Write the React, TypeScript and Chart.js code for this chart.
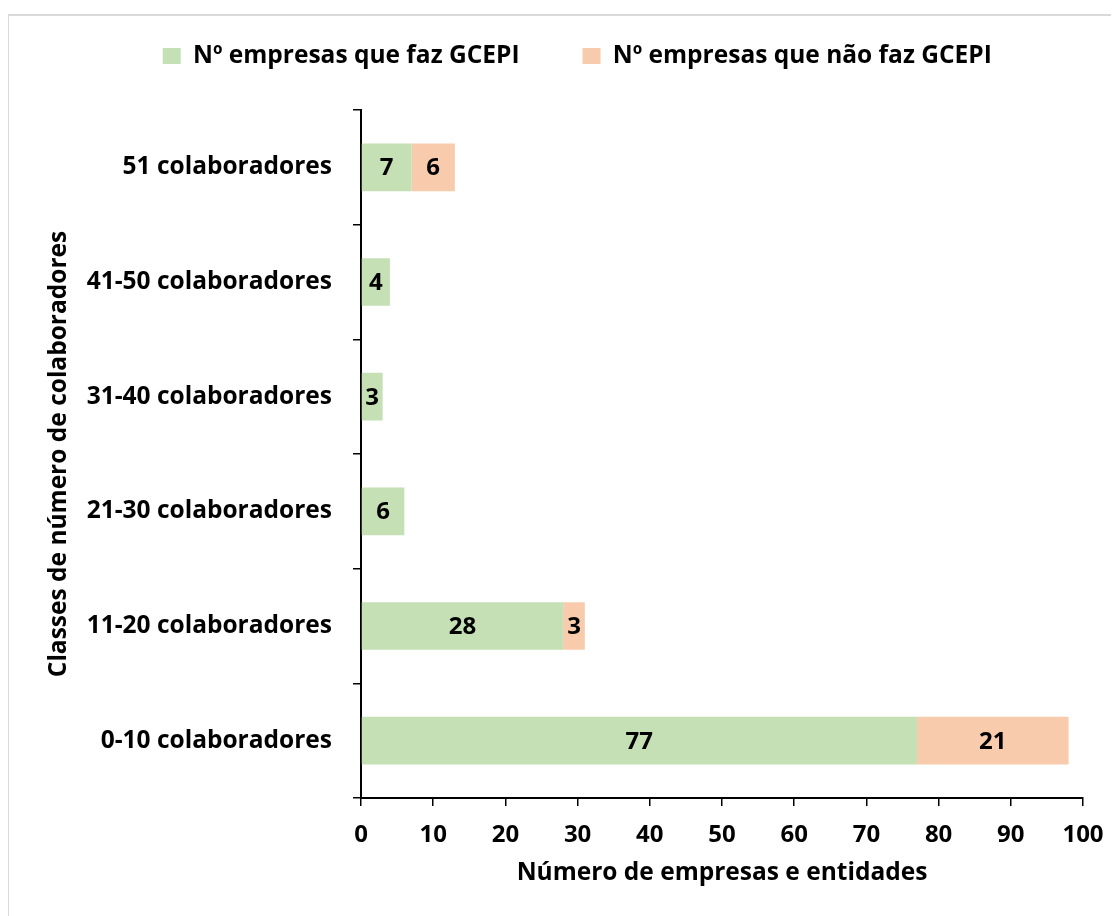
import React, { useEffect, useRef } from "react";
import { Chart, registerables } from "chart.js";

Chart.register(...registerables);

const categories = [
  "51 colaboradores",
  "41-50 colaboradores",
  "31-40 colaboradores",
  "21-30 colaboradores",
  "11-20 colaboradores",
  "0-10 colaboradores",
];
const fazGCEPI = [7, 4, 3, 6, 28, 77];
const naoFazGCEPI = [6, 0, 0, 0, 3, 21];
const seriesNames = ["Nº empresas que faz GCEPI", "Nº empresas que não faz GCEPI"];
const xAxisTitle = "Número de empresas e entidades";
const yAxisTitle = "Classes de número de colaboradores";

const FONT = "'Open Sans'";
const FS = 24.5;
const FD = 24;

const dataLabels = {
  id: "dataLabels",
  afterDatasetsDraw(chart: any) {
    const ctx = chart.ctx;
    ctx.save();
    ctx.font = `bold ${FD}px ${FONT}`;
    ctx.fillStyle = "#000";
    ctx.textAlign = "center";
    ctx.textBaseline = "middle";
    chart.data.datasets.forEach((ds: any, di: number) => {
      const meta = chart.getDatasetMeta(di);
      meta.data.forEach((el: any, i: number) => {
        const v = ds.data[i];
        if (!v) return;
        const cx = (el.x + el.base) / 2;
        ctx.fillText(String(v), cx, el.y + 1);
      });
    });
    ctx.restore();
  },
};

const frame = {
  id: "frame",
  beforeDraw(chart: any) {
    const ctx = chart.ctx;
    ctx.save();
    ctx.fillStyle = "#fff";
    ctx.fillRect(0, 0, chart.width, chart.height);
    ctx.strokeStyle = "#d9d9d9";
    ctx.lineWidth = 2;
    ctx.strokeRect(0, 7, chart.width + 5, chart.height + 5);
    ctx.restore();
  },
};

export default function App() {
  const ref = useRef<HTMLCanvasElement>(null);
  useEffect(() => {
    if (!ref.current) return;
    const chart = new Chart(ref.current, {
      type: "bar",
      data: {
        labels: categories,
        datasets: [
          {
            label: seriesNames[0],
            data: fazGCEPI,
            backgroundColor: "#C5E0B4",
            barPercentage: 0.416,
            categoryPercentage: 1,
          },
          {
            label: seriesNames[1],
            data: naoFazGCEPI,
            backgroundColor: "#F8CBAD",
            barPercentage: 0.416,
            categoryPercentage: 1,
          },
        ],
      },
      options: {
        indexAxis: "y",
        animation: false,
        responsive: false,
        layout: { padding: { top: -27.25, left: 63.5, right: 36, bottom: 0 } },
        plugins: {
          legend: {
            position: "top",
            weight: 3000,
            labels: {
              color: "#000",
              font: { family: FONT, size: FS, weight: "bold" },
              boxWidth: 18,
              boxHeight: 16,
              padding: 63,
            },
          },
          title: {
            display: true,
            text: "",
            weight: 100,
            font: { size: 10, lineHeight: 1 },
            padding: { top: 21.75, bottom: 0 },
          },
          tooltip: { enabled: false },
        },
        scales: {
          x: {
            stacked: true,
            min: 0,
            max: 100,
            ticks: {
              stepSize: 10,
              color: "#000",
              font: { family: FONT, size: FD, weight: "bold" },
              padding: 15,
            },
            grid: {
              drawOnChartArea: false,
              drawTicks: true,
              tickLength: 8,
              color: "#000",
              lineWidth: 1.5,
            },
            border: { display: true, color: "#000", width: 2 },
            title: {
              display: true,
              text: xAxisTitle,
              color: "#000",
              font: { family: FONT, size: FS, weight: "bold" },
              padding: { top: 0, bottom: 28 },
            },
            afterFit(scale: any) {
              scale.height = 118;
            },
          },
          y: {
            stacked: true,
            ticks: {
              color: "#000",
              font: { family: FONT, size: FS, weight: "bold" },
              padding: 21,
            },
            grid: {
              drawOnChartArea: false,
              drawTicks: true,
              tickLength: 8,
              color: "#000",
              lineWidth: 1.5,
              offset: true,
            },
            border: { display: true, color: "#000", width: 2 },
            title: {
              display: true,
              text: yAxisTitle,
              color: "#000",
              font: { family: FONT, size: FS, weight: "bold" },
              padding: { top: -27.2, bottom: 0 },
            },
            afterFit(scale: any) {
              scale.width = 289.5;
            },
          },
        },
      },
      plugins: [frame, dataLabels],
    });
    return () => chart.destroy();
  }, []);
  return (
    <div style={{ width: 1111, height: 908 }}>
      <canvas ref={ref} width={1111} height={908} style={{ display: "block" }} />
    </div>
  );
}
